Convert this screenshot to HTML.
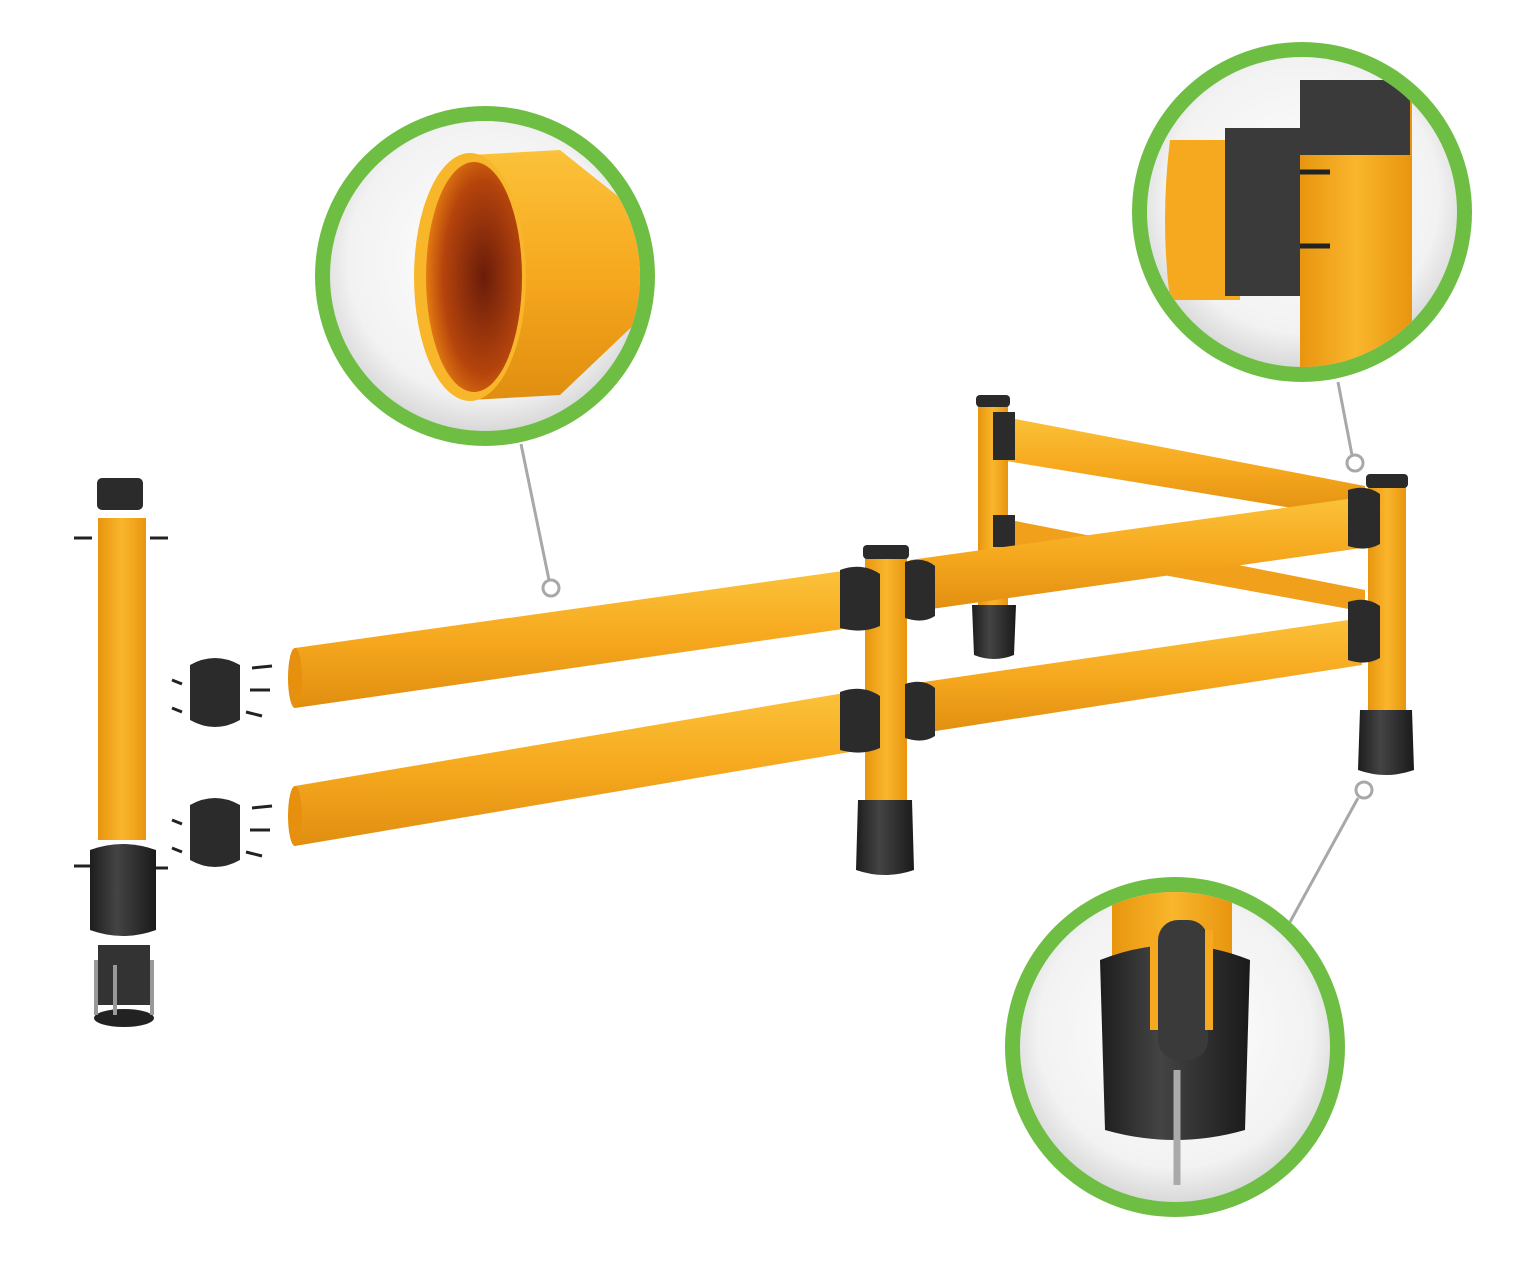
<!DOCTYPE html>
<html><head><meta charset="utf-8"><style>html,body{margin:0;padding:0;background:#fff}svg{display:block}</style></head>
<body>
<svg width="1536" height="1279" viewBox="0 0 1536 1279" xmlns="http://www.w3.org/2000/svg">
<defs>
<radialGradient id="bg" cx="50%" cy="45%" r="55%"><stop offset="0" stop-color="#ffffff"/><stop offset="0.8" stop-color="#f2f2f2"/><stop offset="1" stop-color="#d9d9d9"/></radialGradient>
<linearGradient id="yv" x1="0" y1="0" x2="0" y2="1"><stop offset="0" stop-color="#fbc23a"/><stop offset="0.5" stop-color="#f6a81e"/><stop offset="1" stop-color="#e08e10"/></linearGradient>
<linearGradient id="yh" x1="0" y1="0" x2="1" y2="0"><stop offset="0" stop-color="#e8950f"/><stop offset="0.5" stop-color="#f9b62c"/><stop offset="1" stop-color="#e8950f"/></linearGradient>
<radialGradient id="inner" cx="60%" cy="50%" r="60%"><stop offset="0" stop-color="#6a1c0a"/><stop offset="0.7" stop-color="#b5440c"/><stop offset="1" stop-color="#e37a12"/></radialGradient>
<linearGradient id="blk" x1="0" y1="0" x2="1" y2="0"><stop offset="0" stop-color="#1d1d1d"/><stop offset="0.4" stop-color="#444"/><stop offset="1" stop-color="#1a1a1a"/></linearGradient>
<clipPath id="c1"><circle cx="485" cy="276" r="155"/></clipPath>
<clipPath id="c2"><circle cx="1302" cy="212" r="155"/></clipPath>
<clipPath id="c3"><circle cx="1175" cy="1047" r="155"/></clipPath>
</defs>
<rect width="1536" height="1279" fill="#fff"/>

<g stroke="#a8a8a8" stroke-width="3" fill="none">
<line x1="521" y1="444" x2="549" y2="580"/>
<circle cx="551" cy="588" r="8" fill="#fff"/>
<line x1="1338" y1="382" x2="1352" y2="455"/>
<circle cx="1355" cy="463" r="8" fill="#fff"/>
<line x1="1290" y1="922" x2="1358" y2="798"/>
<circle cx="1364" cy="790" r="8" fill="#fff"/>
</g>

<polygon points="1000,416 1365,486 1365,520 1000,460" fill="url(#yv)"/>
<polygon points="1000,518 1365,590 1365,612 1000,545" fill="#f0a01a"/>
<rect x="978" y="398" width="30" height="215" fill="url(#yh)"/>
<rect x="976" y="395" width="34" height="12" rx="4" fill="#2a2a2a"/>
<path d="M972 605 h44 l-2 50 q-20 8 -40 0z" fill="url(#blk)"/>
<path d="M993 412 h22 v48 h-22z" fill="#2b2b2b"/>
<path d="M993 515 h22 v32 h-22z" fill="#2b2b2b"/>

<polygon points="910,560 1362,497 1362,548 910,612" fill="url(#yv)"/>
<polygon points="910,684 1362,618 1362,665 910,735" fill="url(#yv)"/>
<rect x="1368" y="478" width="38" height="245" fill="url(#yh)"/>
<rect x="1366" y="474" width="42" height="14" rx="4" fill="#2a2a2a"/>
<path d="M1360 710 h52 l2 60 q-28 10 -56 0z" fill="url(#blk)"/>
<path d="M1348 490 q18 -6 32 4 v50 q-14 8 -32 2z" fill="#2b2b2b"/>
<path d="M1348 602 q18 -6 32 4 v52 q-14 8 -32 2z" fill="#2b2b2b"/>

<polygon points="295,648 850,570 850,628 295,708" fill="url(#yv)"/>
<ellipse cx="295" cy="678" rx="7" ry="30" fill="#e6900e"/>
<polygon points="295,786 850,692 850,752 295,846" fill="url(#yv)"/>
<ellipse cx="295" cy="816" rx="7" ry="30" fill="#e6900e"/>
<rect x="865" y="550" width="42" height="260" fill="url(#yh)"/>
<rect x="863" y="545" width="46" height="14" rx="4" fill="#2a2a2a"/>
<path d="M858 800 h54 l2 70 q-29 10 -58 0z" fill="url(#blk)"/>
<path d="M840 570 q22 -8 40 4 v52 q-18 8 -40 2z" fill="#2b2b2b"/>
<path d="M840 692 q22 -8 40 4 v52 q-18 8 -40 2z" fill="#2b2b2b"/>
<path d="M905 562 q18 -6 30 4 v50 q-12 8 -30 2z" fill="#2b2b2b"/>
<path d="M905 684 q18 -6 30 4 v48 q-12 8 -30 2z" fill="#2b2b2b"/>

<rect x="97" y="478" width="46" height="32" rx="5" fill="#2b2b2b"/>
<rect x="98" y="518" width="48" height="322" fill="url(#yh)"/>
<g stroke="#222" stroke-width="3"><line x1="74" y1="538" x2="92" y2="538"/><line x1="150" y1="538" x2="168" y2="538"/><line x1="74" y1="866" x2="92" y2="866"/><line x1="150" y1="868" x2="168" y2="868"/></g>
<path d="M90 850 q33 -12 66 0 v80 q-33 12 -66 0z" fill="url(#blk)"/>
<path d="M98 945 h52 v60 h-52z" fill="#333"/>
<ellipse cx="124" cy="1018" rx="30" ry="9" fill="#222"/>
<g stroke="#999" stroke-width="4"><line x1="96" y1="960" x2="96" y2="1015"/><line x1="152" y1="960" x2="152" y2="1015"/><line x1="115" y1="965" x2="115" y2="1015"/></g>
<g fill="#2b2b2b">
<path d="M190 665 q25 -14 50 0 v55 q-25 14 -50 0z"/>
<path d="M190 805 q25 -14 50 0 v55 q-25 14 -50 0z"/>
</g>
<g stroke="#222" stroke-width="3">
<line x1="252" y1="668" x2="272" y2="666"/><line x1="250" y1="690" x2="270" y2="690"/><line x1="246" y1="712" x2="262" y2="716"/>
<line x1="252" y1="808" x2="272" y2="806"/><line x1="250" y1="830" x2="270" y2="830"/><line x1="246" y1="852" x2="262" y2="856"/>
<line x1="172" y1="680" x2="182" y2="684"/><line x1="172" y1="708" x2="182" y2="712"/><line x1="172" y1="820" x2="182" y2="824"/><line x1="172" y1="848" x2="182" y2="852"/>
</g>

<circle cx="485" cy="276" r="170" fill="#6fbe44"/>
<circle cx="485" cy="276" r="155" fill="url(#bg)"/>
<g clip-path="url(#c1)">
<polygon points="470,155 560,150 660,230 660,300 560,395 470,400" fill="url(#yv)"/>
<ellipse cx="470" cy="277" rx="56" ry="124" fill="#f8b62b"/>
<ellipse cx="474" cy="277" rx="48" ry="115" fill="url(#inner)"/>
</g>
<circle cx="1302" cy="212" r="170" fill="#6fbe44"/>
<circle cx="1302" cy="212" r="155" fill="url(#bg)"/>
<g clip-path="url(#c2)">
<path d="M1170 140 h70 v160 h-70 q-10 -80 0 -160z" fill="#f6a81e"/>
<rect x="1225" y="128" width="80" height="168" fill="#3a3a3a"/>
<rect x="1300" y="80" width="112" height="300" fill="url(#yh)"/>
<rect x="1300" y="80" width="110" height="75" fill="#3a3a3a"/>
<g stroke="#222" stroke-width="5"><line x1="1300" y1="172" x2="1330" y2="172"/><line x1="1300" y1="246" x2="1330" y2="246"/></g>
</g>
<circle cx="1175" cy="1047" r="170" fill="#6fbe44"/>
<circle cx="1175" cy="1047" r="155" fill="url(#bg)"/>
<g clip-path="url(#c3)">
<rect x="1112" y="890" width="120" height="80" fill="url(#yh)"/>
<path d="M1100 960 q75 -30 150 0 l-5 170 q-70 20 -140 0z" fill="url(#blk)"/>
<rect x="1158" y="920" width="50" height="140" rx="20" fill="#3a3a3a"/>
<rect x="1150" y="930" width="8" height="100" fill="#f6a81e"/>
<rect x="1205" y="930" width="8" height="100" fill="#f6a81e"/>
<line x1="1177" y1="1070" x2="1177" y2="1185" stroke="#aaa" stroke-width="7"/>
</g>
</svg>
</body></html>
